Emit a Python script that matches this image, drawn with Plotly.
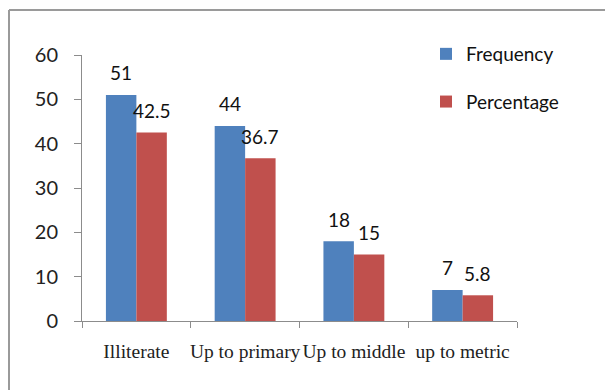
import plotly.graph_objects as go

# Education level of respondents
categories = ["Illiterate", "Up to primary", "Up to middle", "up to metric"]
frequency = [51, 44, 18, 7]
percentage = [42.5, 36.7, 15, 5.8]
y_ticks = [0, 10, 20, 30, 40, 50, 60]

BLUE = "#4F81BD"
RED = "#C0504D"
AXIS = "#8C8C8C"
SANS = "Lato, Calibri, sans-serif"
SERIF = "Liberation Serif, Times New Roman, serif"

W, H = 605, 390
M = dict(l=82, r=88, t=55, b=69)
PW = W - M["l"] - M["r"]
PH = H - M["t"] - M["b"]

fig = go.Figure()
fig.add_trace(go.Bar(name="Frequency", x=categories, y=frequency,
                     marker=dict(color=BLUE, line=dict(width=0)),
                     legendgroup="f"))
fig.add_trace(go.Bar(name="Percentage", x=categories, y=percentage,
                     marker=dict(color=RED, line=dict(width=0)),
                     legendgroup="p"))

# value labels above each bar
half = PW / len(categories) * (1 - 0.44) / 4
for series, shift in ((frequency, -half), (percentage, half)):
    for cat, val in zip(categories, series):
        fig.add_annotation(x=cat, y=val, text=f"{val:g}", showarrow=False,
                           xshift=shift, yshift=22, yanchor="middle",
                           font=dict(family=SANS, size=19, color="#111"))

# frame lines around the chart area (top and left edges)
def px_x(p):
    return (p - M["l"]) / PW

def px_y(p):
    return (H - M["b"] - p) / PH

frame = dict(color="#9A9A9A", width=2)
fig.add_shape(type="line", xref="paper", yref="paper",
              x0=px_x(9), x1=px_x(W + 5), y0=px_y(10), y1=px_y(10), line=frame)
fig.add_shape(type="line", xref="paper", yref="paper",
              x0=px_x(9), x1=px_x(9), y0=px_y(10), y1=px_y(H + 5), line=frame)

fig.update_layout(
    width=W, height=H, margin=dict(M, autoexpand=False),
    paper_bgcolor="white", plot_bgcolor="white",
    barmode="group", bargap=0.44, bargroupgap=0,
    showlegend=True,
    legend=dict(x=px_x(426), y=px_y(35), xanchor="left", yanchor="top",
                font=dict(family=SANS, size=19, color="#111"),
                tracegroupgap=20, bgcolor="rgba(0,0,0,0)"),
    xaxis=dict(type="category", range=[-0.5, 3.5], showgrid=False,
               showline=True, linecolor=AXIS, linewidth=1,
               ticks="outside", tickson="boundaries", ticklen=6,
               tickcolor=AXIS, ticklabelstandoff=13, tickangle=0,
               automargin=False,
               tickfont=dict(family=SERIF, size=19.5, color="#222")),
    yaxis=dict(range=[0, 60], tickvals=y_ticks, showgrid=False,
               showline=True, linecolor=AXIS, linewidth=1, zeroline=False,
               ticks="outside", ticklen=7, tickcolor=AXIS,
               ticklabelstandoff=12, automargin=False,
               tickfont=dict(family=SANS, size=20, color="#222")),
)

fig.write_html("out.html")
